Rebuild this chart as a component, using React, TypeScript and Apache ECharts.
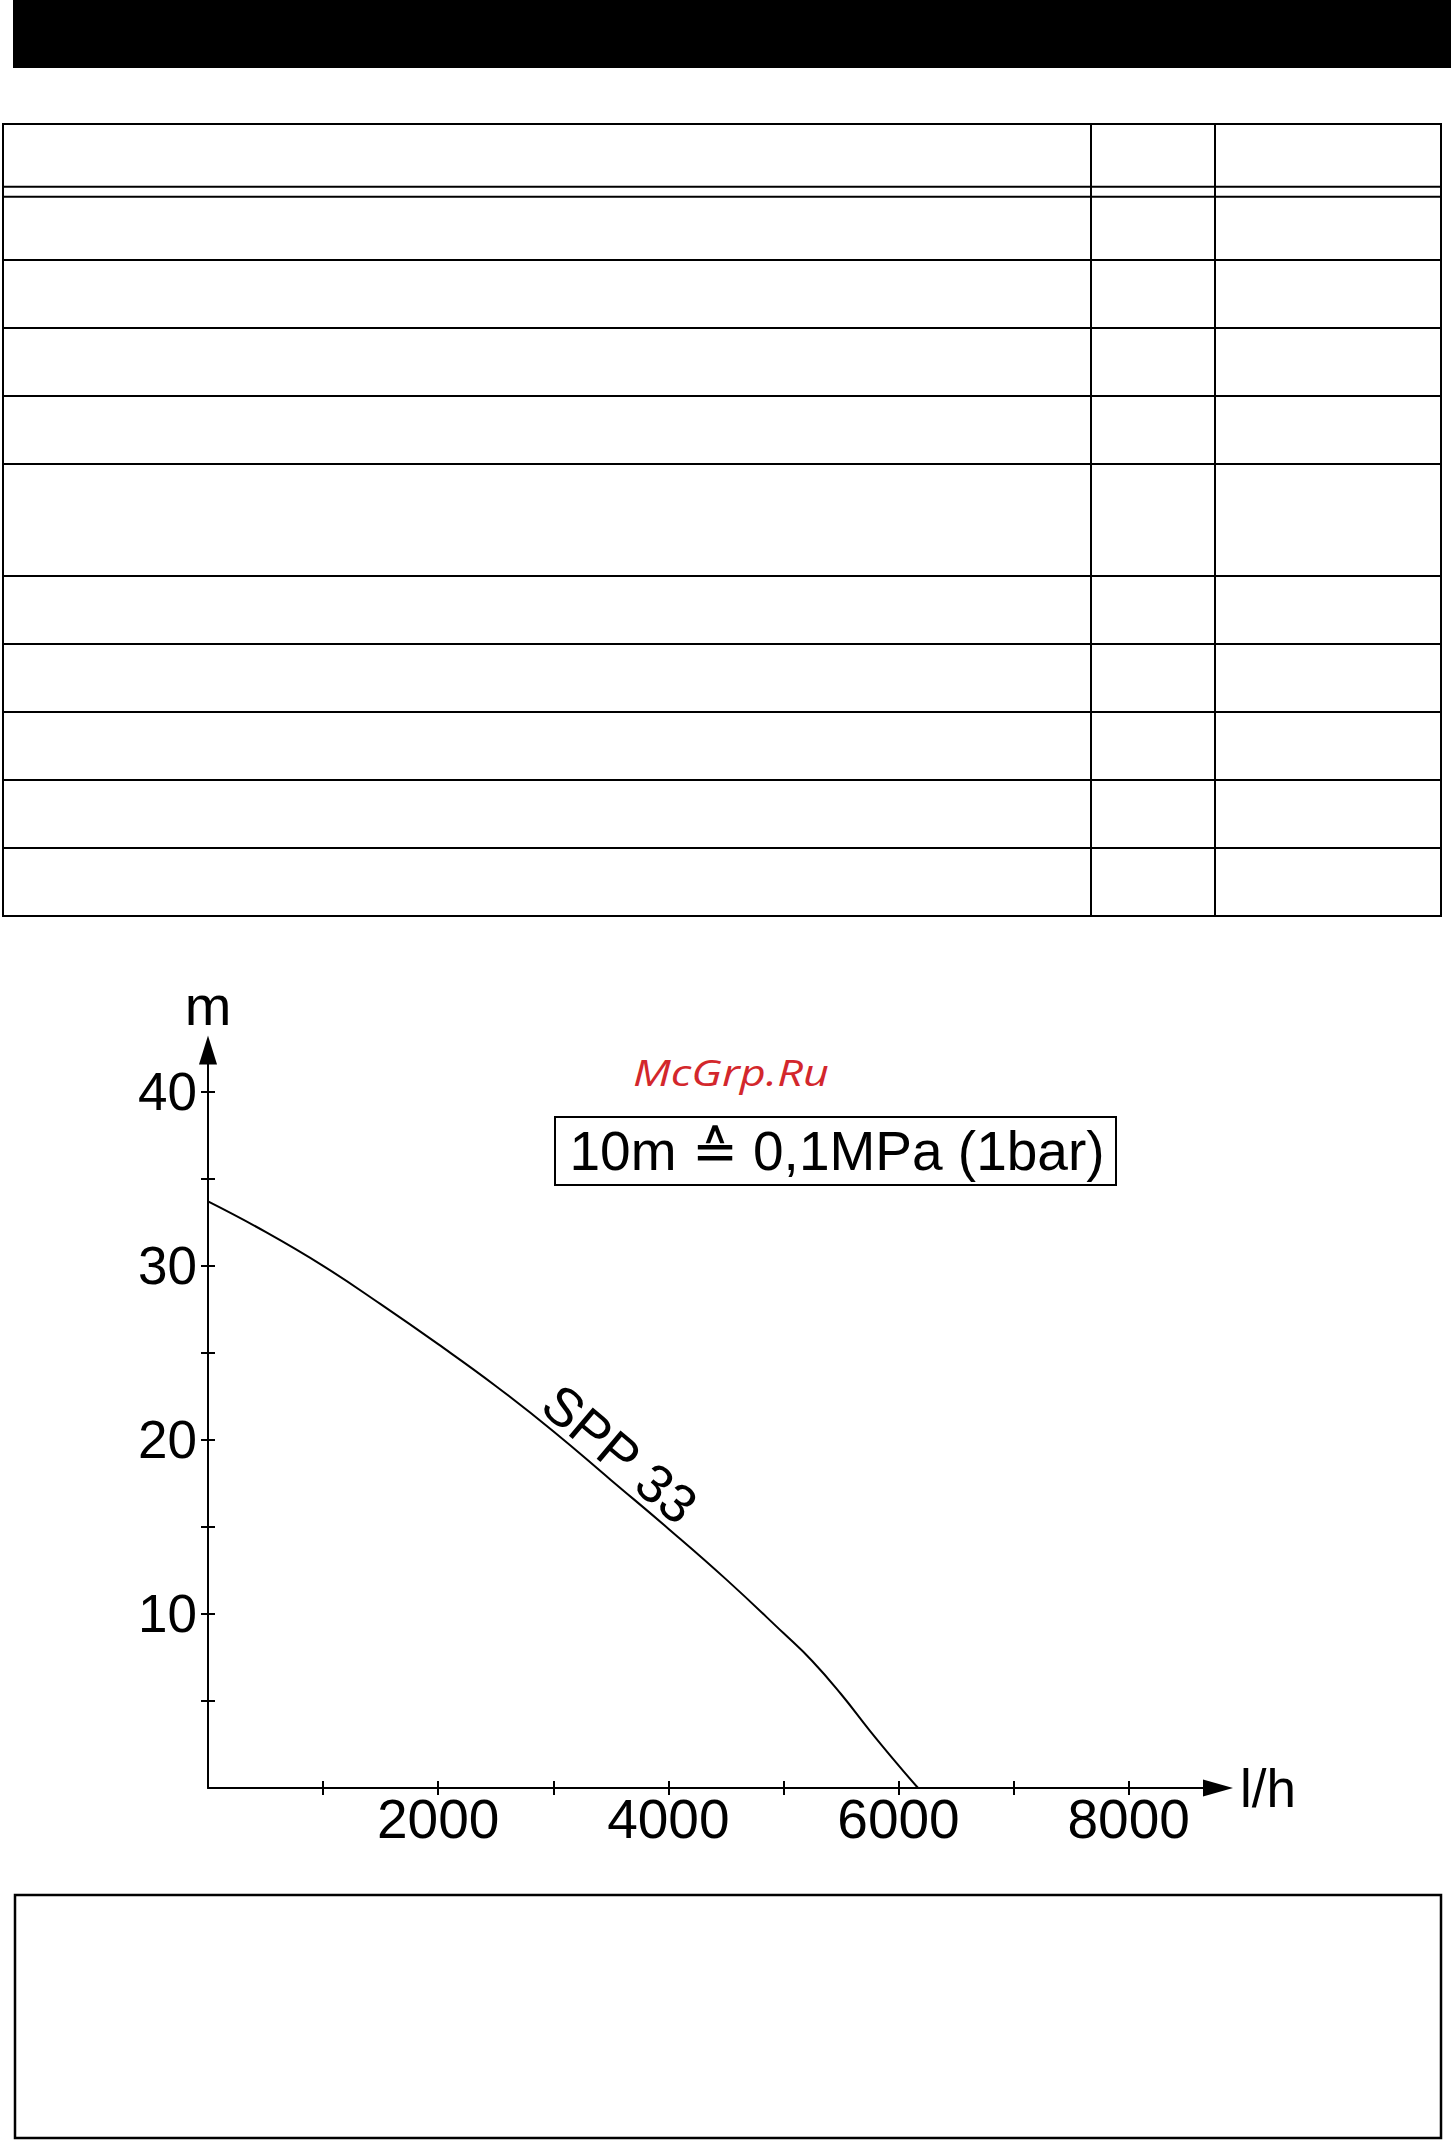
import React, { useEffect, useRef } from "react";
import * as echarts from "echarts";

// ---------- data ----------
const flowLh = [0, 500, 1000, 1500, 2000, 2500, 3000, 3500, 4000, 4500, 5000, 5250, 5500, 5750, 6000, 6170];
const headM = [33.7, 31.95, 30.0, 27.8, 25.5, 23.1, 20.5, 17.7, 14.9, 12.0, 8.9, 7.3, 5.4, 3.3, 1.3, 0];
const xTickValues = [1000, 2000, 3000, 4000, 5000, 6000, 7000, 8000];
const xLabelValues = [2000, 4000, 6000, 8000];
const yTickValues = [5, 10, 15, 20, 25, 30, 35, 40];
const yLabelValues = [10, 20, 30, 40];
const curveName = "SPP 33";
const curveLabelCoord = [3580, 19.2];
const pressureNote = "10m \u2259 0,1MPa (1bar)";
const watermark = "McGrp.Ru";
const xAxisName = "l/h";
const yAxisName = "m";

// ---------- layout ----------
const W = 1452;
const H = 2140;
const FONT = '"Liberation Sans", Arial, Helvetica, sans-serif';
const tableLeft = 3;
const tableRight = 1441;
const tableRowLines = [124, 186.7, 196.7, 260, 328, 396, 464, 576, 644, 712, 780, 848, 916];
const tableColLines = [1091, 1215];

export default function App() {
  const ref = useRef<HTMLDivElement>(null);

  useEffect(() => {
    if (!ref.current) return;
    const chart = echarts.init(ref.current, null, { renderer: "svg", width: W, height: H });

    const tableTop = tableRowLines[0];
    const tableBottom = tableRowLines[tableRowLines.length - 1];
    const graphics: any[] = [];
    graphics.push({ type: "rect", silent: true, shape: { x: 13, y: 0, width: 1438, height: 68 }, style: { fill: "#000" } });
    tableRowLines.forEach((y) => {
      graphics.push({ type: "line", silent: true, shape: { x1: tableLeft - 1, y1: y, x2: tableRight + 1, y2: y }, style: { stroke: "#000", lineWidth: 2 } });
    });
    [tableLeft, ...tableColLines, tableRight].forEach((x) => {
      graphics.push({ type: "line", silent: true, shape: { x1: x, y1: tableTop, x2: x, y2: tableBottom }, style: { stroke: "#000", lineWidth: 2 } });
    });
    graphics.push({ type: "rect", silent: true, shape: { x: 15, y: 1895, width: 1426, height: 243 }, style: { fill: "none", stroke: "#000", lineWidth: 2.5 } });
    graphics.push({ type: "rect", silent: true, shape: { x: 555, y: 1117, width: 561, height: 68 }, style: { fill: "#fff", stroke: "#000", lineWidth: 2 } });
    graphics.push({
      type: "text", silent: true, x: 837, y: 1151,
      style: { text: pressureNote, fontSize: 55, fontFamily: FONT, fill: "#000", align: "center", verticalAlign: "middle" },
    });
    graphics.push({
      type: "text", silent: true, x: 633, y: 1072, scaleX: 1.22,
      style: { text: watermark, fontSize: 37, fontStyle: "italic", fontWeight: 500, fontFamily: '"Open Sans", "Noto Sans", sans-serif', fill: "#d3272c", align: "left", verticalAlign: "middle" },
    });

    const axisLineStyle = { color: "#000", width: 2 };
    const plainNumber = (v: number) => String(v);
    const option: any = {
      animation: false,
      backgroundColor: "#fff",
      grid: { left: 208, top: 1050, width: 1010, height: 738, containLabel: false },
      xAxis: [
        {
          type: "value", min: 0, max: 8776, position: "bottom", offset: 0,
          axisLine: { show: true, onZero: false, lineStyle: axisLineStyle, symbol: ["none", "triangle"], symbolSize: [17, 30] },
          axisTick: { show: true, inside: false, length: 7, customValues: xTickValues, lineStyle: axisLineStyle },
          axisLabel: { show: true, customValues: xLabelValues, formatter: plainNumber, fontSize: 55, fontFamily: FONT, color: "#000", margin: 3 },
          splitLine: { show: false },
          name: xAxisName, nameLocation: "end", nameGap: 22,
          nameTextStyle: { fontSize: 53, fontFamily: FONT, color: "#000" },
        },
        {
          type: "value", min: 0, max: 8776, position: "bottom", offset: 0,
          axisLine: { show: false },
          axisTick: { show: true, inside: true, length: 7, customValues: xTickValues, lineStyle: axisLineStyle },
          axisLabel: { show: false },
          splitLine: { show: false },
        },
      ],
      yAxis: [
        {
          type: "value", min: 0, max: 42.4, position: "left", offset: 0,
          axisLine: { show: true, onZero: false, lineStyle: axisLineStyle, symbol: ["none", "triangle"], symbolSize: [18, 29] },
          axisTick: { show: true, inside: false, length: 7, customValues: yTickValues, lineStyle: axisLineStyle },
          axisLabel: { show: true, customValues: yLabelValues, formatter: plainNumber, fontSize: 53, fontFamily: FONT, color: "#000", margin: 11 },
          splitLine: { show: false },
          name: yAxisName, nameLocation: "end", nameGap: 17,
          nameTextStyle: { fontSize: 56, fontFamily: FONT, color: "#000" },
        },
        {
          type: "value", min: 0, max: 42.4, position: "left", offset: 0,
          axisLine: { show: false },
          axisTick: { show: true, inside: true, length: 7, customValues: yTickValues, lineStyle: axisLineStyle },
          axisLabel: { show: false },
          splitLine: { show: false },
        },
      ],
      series: [
        {
          type: "line", name: curveName, xAxisIndex: 0, yAxisIndex: 0,
          data: flowLh.map((x, i) => [x, headM[i]]),
          smooth: 0.45, showSymbol: false, symbol: "none",
          lineStyle: { color: "#000", width: 2 },
          markPoint: {
            symbol: "circle", symbolSize: 0, silent: true,
            data: [{ coord: curveLabelCoord, name: curveName }],
            label: { show: true, position: "inside", formatter: curveName, rotate: -40, fontSize: 54, fontFamily: FONT, color: "#000" },
          },
        },
      ],
      graphic: graphics,
    };
    chart.setOption(option);
    return () => chart.dispose();
  }, []);

  return <div ref={ref} style={{ position: "absolute", left: 0, top: 0, width: W, height: H, background: "#fff" }} />;
}
